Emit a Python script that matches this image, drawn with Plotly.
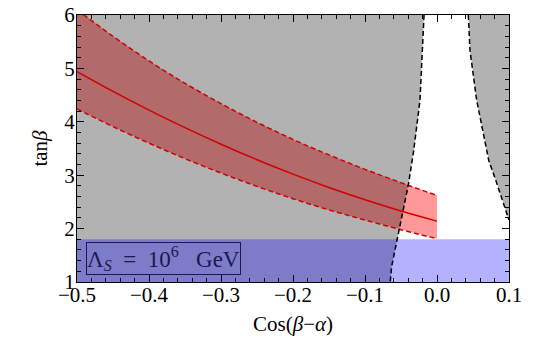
import plotly.graph_objects as go

# tan(beta) band vs cos(beta-alpha)
band_x = [-0.5, -0.45, -0.4, -0.35, -0.3, -0.25, -0.2, -0.15, -0.1, -0.05, 0.0]
band_center = [4.94, 4.57, 4.22, 3.89, 3.58, 3.29, 3.02, 2.77, 2.54, 2.33, 2.14]
band_upper = [6.10, 5.60, 5.14, 4.72, 4.34, 3.99, 3.67, 3.38, 3.11, 2.86, 2.62]
band_lower = [4.24, 3.91, 3.60, 3.31, 3.04, 2.79, 2.56, 2.35, 2.16, 1.98, 1.81]

# boundaries of the allowed (white) region
left_tanb = [6.0, 5.2, 4.41, 3.91, 3.41, 2.82, 2.35, 1.97, 1.54, 1.29, 1.0]
left_x = [-0.018, -0.0205, -0.0236, -0.0282, -0.0329, -0.0398, -0.0468, -0.0524, -0.0583, -0.063, -0.065]
right_tanb = [6.0, 5.34, 4.41, 3.79, 3.28, 2.91, 2.54, 2.16]
right_x = [0.0435, 0.0458, 0.055, 0.0643, 0.0718, 0.0815, 0.091, 0.1]

x_range = [-0.5, 0.1]
y_range = [1, 6]
blue_tanb_max = 1.8
label = "Λ<sub><i>S</i></sub>&nbsp;&nbsp;= &nbsp;10<sup>6</sup>&nbsp;&nbsp; GeV"

font = "Liberation Serif"
fig = go.Figure()

# red band
fig.add_trace(go.Scatter(
    x=band_x + band_x[::-1], y=band_upper + band_lower[::-1],
    fill="toself", fillcolor="rgba(255,0,0,0.4)", line=dict(width=0),
    mode="lines", hoverinfo="skip"))

# excluded regions (gray)
fig.add_trace(go.Scatter(
    x=[x_range[0], x_range[0]] + left_x, y=[y_range[0], y_range[1]] + left_tanb,
    fill="toself", fillcolor="rgba(0,0,0,0.3)", line=dict(width=0), mode="lines"))
fig.add_trace(go.Scatter(
    x=right_x + [x_range[1]], y=right_tanb + [y_range[1]],
    fill="toself", fillcolor="rgba(0,0,0,0.3)", line=dict(width=0), mode="lines"))

# blue region
fig.add_trace(go.Scatter(
    x=[x_range[0], x_range[1], x_range[1], x_range[0]],
    y=[y_range[0], y_range[0], blue_tanb_max, blue_tanb_max],
    fill="toself", fillcolor="rgba(0,0,255,0.3)", line=dict(width=0), mode="lines"))

# band lines
red = "rgb(210,0,0)"
fig.add_trace(go.Scatter(x=band_x, y=band_center, mode="lines", line=dict(color=red, width=1.5, shape="spline")))
fig.add_trace(go.Scatter(x=band_x, y=band_upper, mode="lines", line=dict(color=red, width=1.5, dash="5px,3px", shape="spline")))
fig.add_trace(go.Scatter(x=band_x, y=band_lower, mode="lines", line=dict(color=red, width=1.5, dash="5px,3px", shape="spline")))

# boundary curves
fig.add_trace(go.Scatter(x=left_x, y=left_tanb, mode="lines", line=dict(color="black", width=1.5, dash="5px,3px")))
fig.add_trace(go.Scatter(x=right_x, y=right_tanb, mode="lines", line=dict(color="black", width=1.5, dash="5px,3px")))

fig.add_annotation(x=-0.4875, y=1.44, xref="x", yref="y", xanchor="left", yanchor="middle",
                   text=label, showarrow=False, font=dict(family=font, size=23, color="#1a1a50"),
                   bordercolor="#1a1a50", borderwidth=1, borderpad=0)

axis_common = dict(showgrid=False, zeroline=False, showline=True, linecolor="black", linewidth=1,
                   mirror="allticks", ticks="inside", ticklen=7, tickcolor="black", automargin=False,
                   ticklabeloverflow="allow", tickfont=dict(family=font, size=21, color="black"))
fig.update_xaxes(range=x_range, dtick=0.1, tickformat=".1f", ticklabelstandoff=-6,
                 minor=dict(dtick=0.02, ticks="inside", ticklen=4, tickcolor="black"),
                 title=dict(text="Cos(<i>β</i>−<i>α</i>)", font=dict(family=font, size=21, color="black"), standoff=10),
                 **axis_common)
fig.update_yaxes(range=y_range, dtick=1, ticklabelstandoff=-3,
                 minor=dict(dtick=0.2, ticks="inside", ticklen=4, tickcolor="black"),
                 title=dict(text="tan<i>β</i>", font=dict(family=font, size=21, color="black"), standoff=10),
                 **axis_common)
fig.update_layout(width=550, height=350, margin=dict(l=69, r=49, t=7, b=76),
                  plot_bgcolor="white", paper_bgcolor="white", showlegend=False)

fig.write_html("out.html")
